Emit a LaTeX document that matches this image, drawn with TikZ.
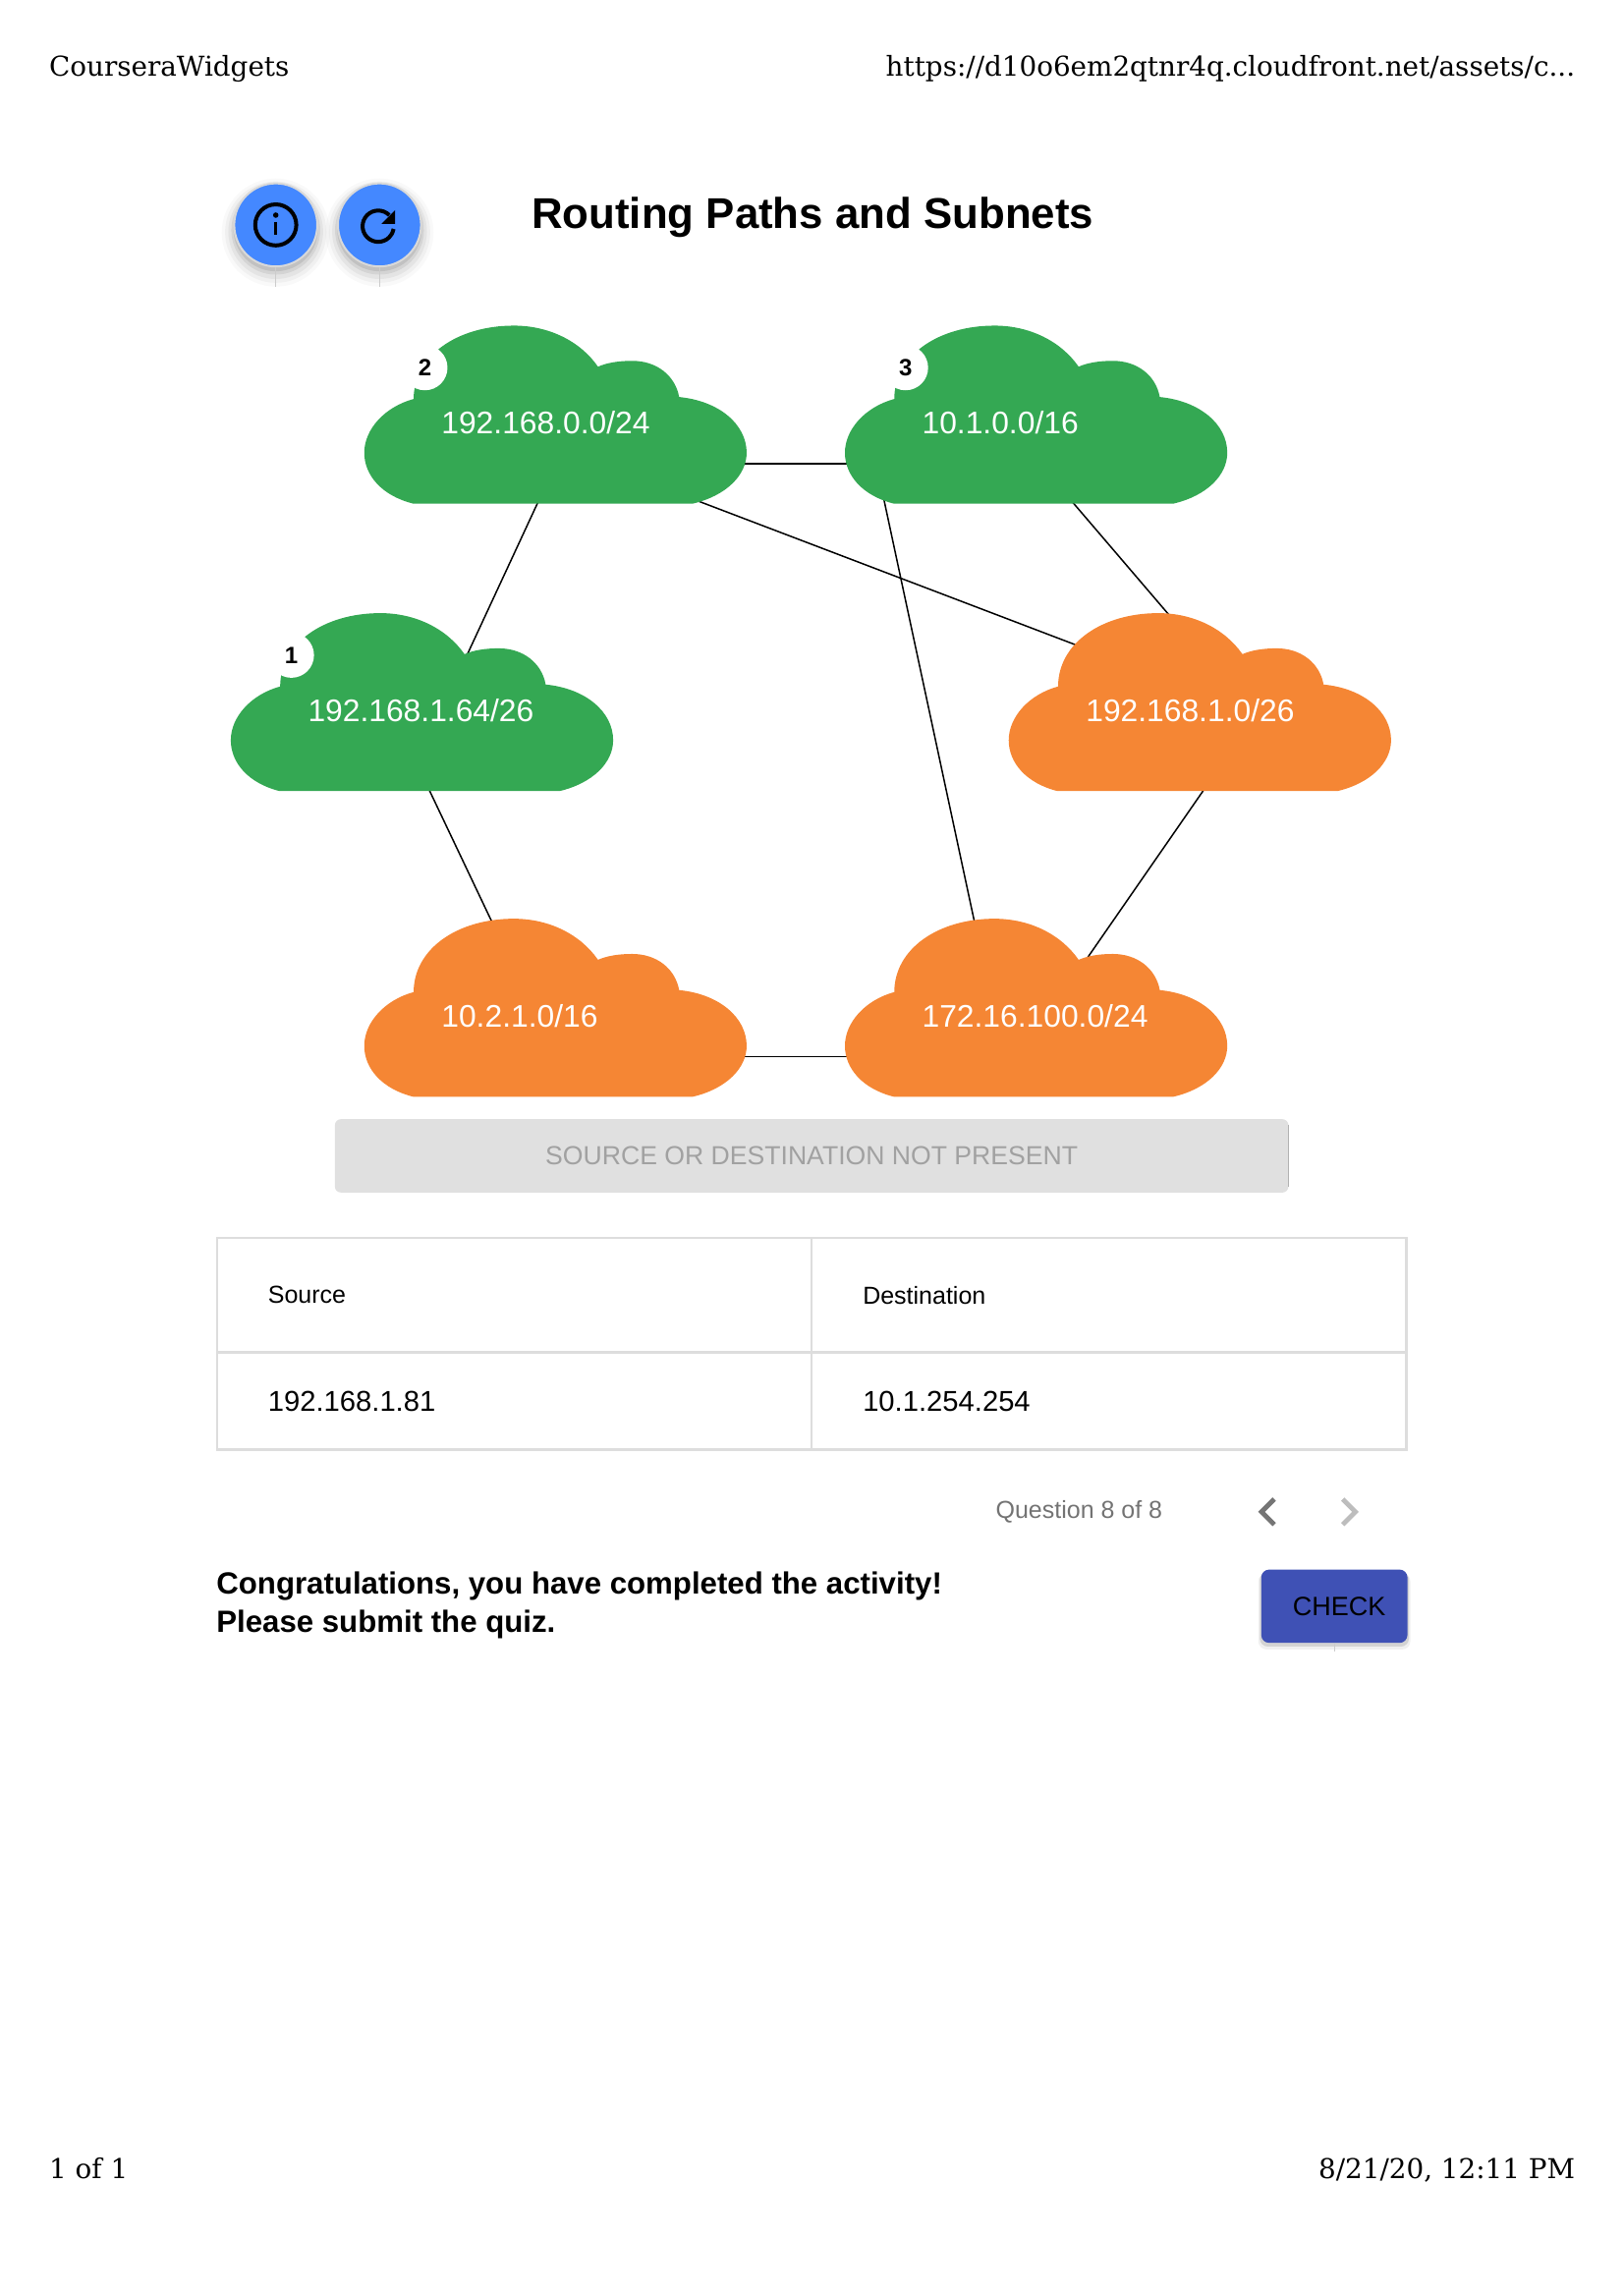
\documentclass[tikz,border=0pt]{standalone}
\usepackage{fontspec}
\setmainfont{Liberation Sans}
\newfontfamily\pagefont{DejaVu Serif}
\usepackage{xcolor}
\usepackage{tikz}
\usetikzlibrary{positioning,backgrounds,shadows}
\definecolor{netgreen}{HTML}{34A853}
\definecolor{netorange}{HTML}{F58634}
\definecolor{btnblue}{HTML}{4488FF}
\definecolor{btnindigo}{HTML}{3F51B5}
\definecolor{cellline}{HTML}{DDDDDD}
\tikzset{
  netcloud/.pic={
    \fill[pic actions] (-146,41) -- (140,41)
      .. controls (174,33) and (195,12) .. (195,-11)
      .. controls (195,-40) and (167,-64) .. (126,-68)
      .. controls (122,-90) and (103,-105) .. (78,-105)
      .. controls (64,-105) and (52,-103) .. (43,-99)
      .. controls (25,-125) and (-7,-141) .. (-43,-141)
      .. controls (-101,-141) and (-145.5,-110) .. (-145.5,-66)
      .. controls (-175,-58) and (-196,-35) .. (-196,-11)
      .. controls (-196,12) and (-178,33) .. (-146,41) -- cycle;
  },
  netlabel/.style={text=white, inner sep=0pt, text width=116.5pt, align=left,
    text height=12pt, text depth=42pt, font=\fontsize{15.9pt}{19pt}\selectfont},
  badge/.style={circle, fill=white, inner sep=0pt, minimum size=23pt,
    font=\fontsize{12pt}{14pt}\selectfont\bfseries},
  link/.style={draw=black, line width=0.75pt},
  pagetext/.style={inner sep=0pt, font=\pagefont\fontsize{13.9pt}{17pt}\selectfont},
  softshadow/.style={
    drop shadow={shadow xshift=0pt, shadow yshift=-3pt, shadow scale=1.3, fill=black, opacity=0.025},
    drop shadow={shadow xshift=0pt, shadow yshift=-3pt, shadow scale=1.22, fill=black, opacity=0.035},
    drop shadow={shadow xshift=0pt, shadow yshift=-3pt, shadow scale=1.14, fill=black, opacity=0.05},
    drop shadow={shadow xshift=0pt, shadow yshift=-2.5pt, shadow scale=1.07, fill=black, opacity=0.07},
    drop shadow={shadow xshift=0pt, shadow yshift=-2pt, shadow scale=1.02, fill=black, opacity=0.09}},
  lowshadow/.style={
    drop shadow={shadow xshift=0pt, shadow yshift=-2.5pt, shadow scale=1.04, fill=black, opacity=0.06},
    drop shadow={shadow xshift=0pt, shadow yshift=-1.5pt, shadow scale=1.02, fill=black, opacity=0.12}},
  roundbtn/.style={circle, fill=btnblue, draw=black!15, line width=1pt, minimum size=42.3pt,
    inner sep=0pt, softshadow},
  icon/.style={draw=black, line width=2pt},
  tablecell/.style={draw=cellline, line width=1.2pt, minimum width=302.7pt, inner sep=0pt, outer sep=0pt,
    text width=250.7pt, align=left},
  tick/.style={draw=black!20, line width=0.4pt},
}
\begin{document}
\begin{tikzpicture}[x=0.4977pt, y=-0.4977pt]
    \useasboundingbox (0,0) rectangle (1660.6,2347.9);

    % page header and footer
    \node [pagetext, anchor=base west] (hdleft) at (50,78) {CourseraWidgets};
    \node [pagetext, anchor=base east] (hdright) at (1611,78) {https://d10o6em2qtnr4q.cloudfront.net/assets/c...};
    \node [pagetext, anchor=base west] (ftleft) at (50,2228) {1 of 1};
    \node [pagetext, anchor=base east] (ftright) at (1611,2228) {8/21/20, 12:11 PM};

    % title and the two round buttons
    \node [inner sep=0pt, font=\fontsize{21.9pt}{26pt}\selectfont\bfseries] (title) at (831,222) {Routing Paths and Subnets};
    \node [roundbtn] (info) at (282,230) {};
    \node [roundbtn, right=9.5pt of info] (reset) {};
    \draw [tick] (info.south) -- ++(0,20);
    \draw [tick] (reset.south) -- ++(0,20);
    \draw [icon] (info.center) circle [radius=21];
    \fill (info.center) ++(0,-10) circle [radius=2.8];
    \draw [icon, line width=1.5pt] (info.center) ++(0,-3) -- ++(0,13);
    \draw [icon] (reset.center) ++(10,-10) arc [start angle=-45, end angle=-350, radius=16];
    \fill (reset.center) ++(16,-15) -- ++(0,14) -- ++(-14,0) -- cycle;

    % clouds
    \pic [fill=netgreen] at (568.5,474) {netcloud};
    \node [netlabel] (net2) at (568.5,474) {192.168.0.0/24};
    \pic [fill=netgreen] at (1060,474) {netcloud};
    \node [netlabel] (net3) at (1060,474) {10.1.0.0/16};
    \pic [fill=netgreen] at (432,768) {netcloud};
    \node [netlabel] (net1) at (432,768) {192.168.1.64/26};
    \pic [fill=netorange] at (1227.5,768) {netcloud};
    \node [netlabel] (net5) at (1227.5,768) {192.168.1.0/26};
    \pic [fill=netorange] at (568.5,1080.5) {netcloud};
    \node [netlabel] (net4) at (568.5,1080.5) {10.2.1.0/16};
    \pic [fill=netorange] at (1060,1080.5) {netcloud};
    \node [netlabel] (net6) at (1060,1080.5) {172.16.100.0/24};

    % numbers on the green clouds
    \node [badge] (badge2) at ([shift={(-134,-98)}]net2.center) {2};
    \node [badge] (badge3) at ([shift={(-134,-98)}]net3.center) {3};
    \node [badge] (badge1) at ([shift={(-134,-98)}]net1.center) {1};

    % links run behind the clouds
    \begin{scope}[on background layer]
        \draw [link] (net2.center) -- (net3.center);
        \draw [link] (net2.center) -- (net1.center);
        \draw [link] ([shift={(-12,0)}]net1.center) -- (net4.center);
        \draw [link] (net4.center) -- (net6.center);
        \draw [link] ([shift={(31,0)}]net5.center) -- ([shift={(-18,0)}]net6.center);
        \draw [link] ([shift={(-164,0)}]net3.center) -- ([shift={(-34,0)}]net6.center);
        \draw [link] ([shift={(3,0)}]net3.center) -- ([shift={(87,0)}]net5.center);
        \draw [link] ([shift={(0,-17)}]net2.center) -- ([shift={(0,-60)}]net5.center);
    \end{scope}

    % status bar
    \node [fill=black!12, rounded corners=3pt, minimum width=485.3pt, minimum height=37.3pt, text=black!37,
        font=\fontsize{13.3pt}{16pt}\selectfont] (status) at (830,1182) {SOURCE OR DESTINATION NOT PRESENT};
    \draw [draw=black!30, line width=0.5pt] ([yshift=-3pt]status.north east) -- ([yshift=3pt]status.south east);

    % table
    \node [tablecell, minimum height=58.2pt, font=\fontsize{12.5pt}{15pt}\selectfont] (srchead) at (526,1324.5) {Source};
    \node [tablecell, minimum height=58.2pt, right=0pt of srchead, font=\fontsize{12.5pt}{15pt}\selectfont] (dsthead) {Destination};
    \node [tablecell, minimum height=49.5pt, below=0pt of srchead, font=\fontsize{14.6pt}{17pt}\selectfont] (srcval) {192.168.1.81};
    \node [tablecell, minimum height=49.5pt, below=0pt of dsthead, font=\fontsize{14.6pt}{17pt}\selectfont] (dstval) {10.1.254.254};

    % question pager
    \node [inner sep=0pt, text=black!55, font=\fontsize{12.5pt}{15pt}\selectfont] (pager) at (1103.5,1545.5) {Question 8 of 8};
    \draw [draw=black!54, line width=2.4pt] (1303,1533) -- (1290,1546) -- (1303,1559);
    \draw [draw=black!26, line width=2.4pt] (1373,1533) -- (1386,1546) -- (1373,1559);

    % closing message and check button
    \node [inner sep=0pt, anchor=west, align=left, font=\fontsize{15.6pt}{19.5pt}\selectfont\bfseries] (done) at (221,1641.5)
        {Congratulations, you have completed the activity!\\Please submit the quiz.};
    \node [fill=btnindigo, rounded corners=4pt, minimum width=74.4pt, minimum height=37.3pt, inner sep=0pt,
        font=\fontsize{13.5pt}{16pt}\selectfont, lowshadow] (check) at (1364.5,1642.5) {\hspace*{5pt}CHECK};
    \draw [tick] (check.south) -- ++(0,8);
\end{tikzpicture}
\end{document}
